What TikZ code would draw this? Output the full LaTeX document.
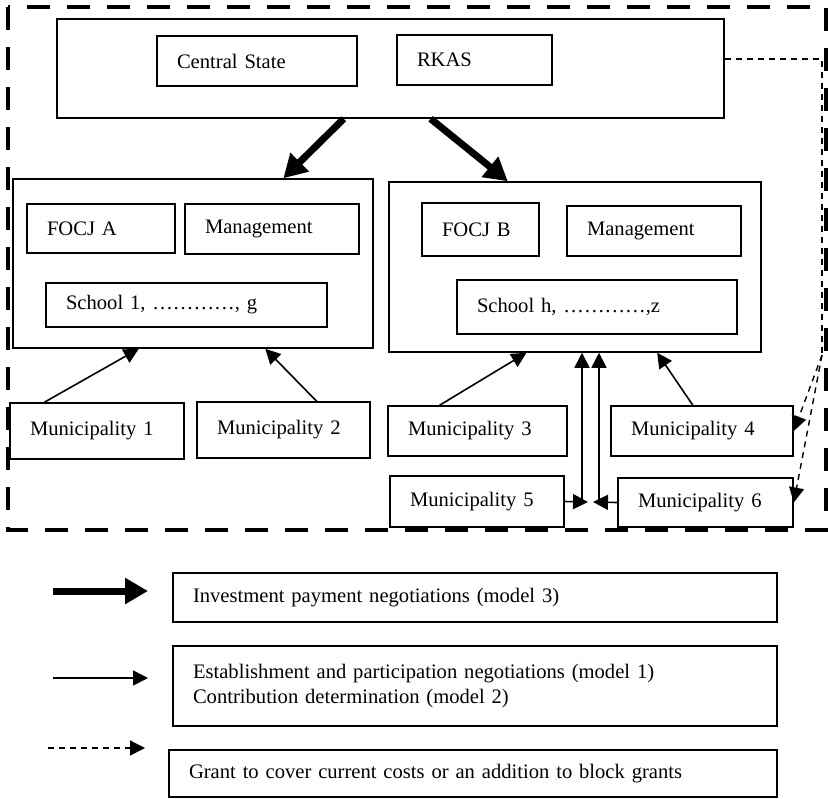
\documentclass[tikz,border=0pt]{standalone}
\usepackage{fontspec}
\setmainfont{Liberation Serif}
\usetikzlibrary{arrows.meta,calc}

\tikzstyle{unit}=[draw, line width=0.75pt, align=left, inner xsep=10pt, inner ysep=0pt, font=\fontsize{10.3}{12.3}\selectfont]
\tikzstyle{group}=[draw, line width=0.75pt, inner sep=0pt]
\tikzstyle{border}=[line width=2pt, dash pattern=on 11.5pt off 8.5pt]
\tikzstyle{invest}=[line width=3.5pt, -{Triangle[length=11.5pt,width=12.5pt]}]
\tikzstyle{negot}=[line width=0.8pt, -{Triangle[length=7.5pt,width=7.5pt]}]
\tikzstyle{grant}=[line width=0.7pt, dash pattern=on 3pt off 2.5pt, -{Triangle[length=7.5pt,width=7.5pt]}]

\begin{document}
\begin{tikzpicture}[x=0.5pt,y=-0.5pt]
\useasboundingbox (0,0) rectangle (828,798);

% outer frame
\draw [border] (8,7) rectangle (826,530);

% central level
\node [group, minimum width=333.5pt, minimum height=49.5pt] (top) at (390.5,68.5) {};
\node [unit, text width=80pt, minimum height=25pt] (cs) at (257,61) {Central State};
\node [unit, text width=57.5pt, minimum height=25pt] (rkas) at (474.5,60) {RKAS};

% FOCJ A
\node [group, minimum width=180pt, minimum height=84.5pt] (boxA) at (193,263.5) {};
\node [unit, text width=54pt, minimum height=24.5pt] (focjA) at (101,228.5) {FOCJ A};
\node [unit, text width=67pt, minimum height=25pt] (mgmtA) at (272,229) {Management};
\node [unit, text width=120.5pt, minimum height=22pt] (schA) at (186.5,305) {School 1, …………, g};

% FOCJ B
\node [group, minimum width=186pt, minimum height=85pt] (boxB) at (575,267) {};
\node [unit, text width=38.5pt, minimum height=26.5pt] (focjB) at (480.5,229.5) {FOCJ B};
\node [unit, text width=67pt, minimum height=25pt] (mgmtB) at (654,231) {Management};
\node [unit, text width=120pt, minimum height=27pt] (schB) at (597,307) {School h, …………,z};

% municipalities
\node [unit, text width=67pt, minimum height=28pt] (m1) at (97,431) {Municipality 1};
\node [unit, text width=66.5pt, minimum height=28pt] (m2) at (283.5,430) {Municipality 2};
\node [unit, text width=69.5pt, minimum height=25pt] (m3) at (477.5,431) {Municipality 3};
\node [unit, text width=71pt, minimum height=25pt] (m4) at (702,431) {Municipality 4};
\node [unit, text width=67pt, minimum height=25.5pt] (m5) at (477,501.5) {Municipality 5};
\node [unit, text width=67.5pt, minimum height=24.5pt] (m6) at (705.5,502.5) {Municipality 6};

% investment payments
\draw [invest] ($(top.south west)!0.43!(top.south east)$) -- ($(boxA.north west)!0.75!(boxA.north east)$);
\draw [invest] ($(top.south west)!0.56!(top.south east)$) -- ($(boxB.north west)!0.32!(boxB.north east)$);

% negotiations
\draw [negot] ($(m1.north west)!0.2!(m1.north east)$) -- ($(boxA.south west)!0.35!(boxA.south east)$);
\draw [negot] ($(m2.north west)!0.69!(m2.north east)$) -- ($(boxA.south west)!0.7!(boxA.south east)$);
\draw [negot] ($(m3.north west)!0.29!(m3.north east)$) -- ($(boxB.south west)!0.37!(boxB.south east)$);
\draw [negot] ($(m4.north west)!0.45!(m4.north east)$) -- ($(boxB.south west)!0.72!(boxB.south east)$);
\coordinate (j5) at (582,502);
\coordinate (j6) at (599,502);
\draw [negot] (m5.east) -- ([xshift=3pt]j5);
\draw [negot] (j5) -- (j5 |- boxB.south);
\draw [negot] (m6.west) -- ([xshift=-3pt]j6);
\draw [negot] (j6) -- (j6 |- boxB.south);

% grants
\coordinate (gcorner) at (822,59);
\coordinate (gsplit) at (822,355);
\draw [grant, -] ([yshift=4.75pt]top.east) -- (gcorner) -- (gsplit);
\draw [grant] (gsplit) -- (m4.east);
\draw [grant] (gsplit) -- (m6.east);

% legend
\node [unit, text width=282pt, minimum height=24.5pt] (leg1) at (475,597.5) {Investment payment negotiations (model 3)};
\node [unit, text width=282pt, minimum height=40pt] (leg2) at (475,686) {Establishment and participation negotiations (model 1)\\Contribution determination (model 2)};
\node [unit, text width=284pt, minimum height=23.5pt] (leg3) at (473,773.5) {Grant to cover current costs or an addition to block grants};
\coordinate (l1a) at (53,591);
\coordinate (l1b) at (148,591);
\coordinate (l2a) at (53,678);
\coordinate (l2b) at (148,678);
\coordinate (l3a) at (48,748);
\coordinate (l3b) at (145,748);
\draw [invest] (l1a) -- (l1b);
\draw [negot] (l2a) -- (l2b);
\draw [grant] (l3a) -- (l3b);
\end{tikzpicture}
\end{document}
